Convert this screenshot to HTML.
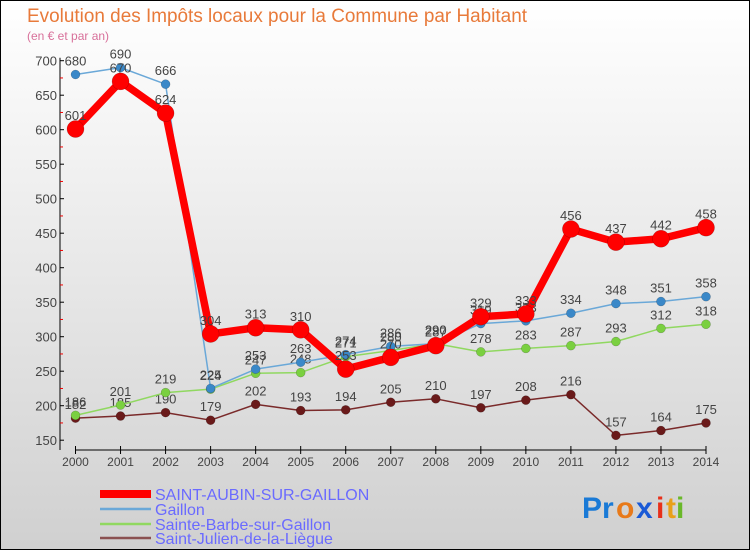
<!DOCTYPE html>
<html><head><meta charset="utf-8"><style>
body{margin:0;width:750px;height:550px;overflow:hidden;font-family:"Liberation Sans",sans-serif}
#wrap{position:absolute;left:0;top:0;width:748px;height:548px;border:1px solid #000;background:linear-gradient(#fff,#d0d0d0)}
text{font-family:"Liberation Sans",sans-serif}
</style></head><body>
<div id="wrap">
<svg id="chart" width="750" height="550" style="position:absolute;left:-1px;top:-1px">
<text x="27" y="22" font-size="19" fill="#e87a3a" textLength="500" lengthAdjust="spacingAndGlyphs">Evolution des Impôts locaux pour la Commune par Habitant</text>
<text x="27" y="40" font-size="12" fill="#d8709a">(en € et par an)</text>
<g id="axes"></g><g id="series"></g><g id="legend"></g>
<g font-size="30" font-weight="bold">
<text x="582" y="518" fill="#1a7ad6">Pr</text><text x="616" y="518" fill="#e87a1a">o</text><text x="636" y="518" fill="#1a5ad6">x</text><text x="656" y="518" fill="#e8301a">i</text><text x="666" y="518" fill="#e8a01a">t</text><text x="676" y="518" fill="#6ab82a">i</text>
</g>
</svg></div>
<script>
const years=[2000,2001,2002,2003,2004,2005,2006,2007,2008,2009,2010,2011,2012,2013,2014];
const yTicks=[150,200,250,300,350,400,450,500,550,600,650,700];
const saintAubin=[601,670,624,304,313,310,253,270,287,329,333,456,437,442,458];
const gaillon=[680,690,666,225,253,263,274,286,290,319,323,334,348,351,358];
const sainteBarbe=[186,201,219,224,247,248,271,280,290,278,283,287,293,312,318];
const saintJulien=[182,185,190,179,202,193,194,205,210,197,208,216,157,164,175];
const names=["SAINT-AUBIN-SUR-GAILLON","Gaillon","Sainte-Barbe-sur-Gaillon","Saint-Julien-de-la-Liègue"];
const NS="http://www.w3.org/2000/svg";
const xS=i=>75.5+i*(706-75.5)/(years.length-1);
const yS=v=>405.7-(v-200)*0.69;
function mk(tag,attrs,parent,txt){const e=document.createElementNS(NS,tag);for(const k in attrs)e.setAttribute(k,attrs[k]);if(txt!==undefined)e.textContent=txt;parent.appendChild(e);return e;}
const axes=document.getElementById('axes');
let a=mk('line',{x1:60,y1:yS(700)-3,x2:60,y2:450,stroke:'#000'},axes);


a=mk('line',{x1:75,y1:450,x2:706,y2:450,stroke:'#000'},axes);


yTicks.forEach(t=>{
 mk('line',{x1:60,y1:yS(t),x2:64,y2:yS(t),stroke:'#000'},axes);
 if(t<700)mk('line',{x1:60,y1:yS(t+25),x2:63,y2:yS(t+25),stroke:'#e00'},axes);
 const l=mk('text',{x:57,y:yS(t)+5,'font-size':13,fill:'#444','text-anchor':'end'},axes,t);
 
 
});
years.forEach((y,i)=>{
 mk('line',{x1:xS(i),y1:446,x2:xS(i),y2:454,stroke:'#000'},axes);
 const l=mk('text',{x:xS(i),y:466,'font-size':12,fill:'#444','text-anchor':'middle'},axes,y);
 
 
});
const ser=document.getElementById('series');
const defs=[
 {d:saintJulien,c:'#7a2a2a',m:'#6a1a1a',w:1.5,r:4.5,n:'saint-julien'},
 {d:sainteBarbe,c:'#90d860',m:'#7ad040',w:1.5,r:4.5,n:'sainte-barbe'},
 {d:gaillon,c:'#6aa8d8',m:'#3a88c8',w:1.5,r:4.5,n:'gaillon'},
 {d:saintAubin,c:'#f00',m:'#f00',w:7.5,r:8.5,n:'saint-aubin'}];
defs.forEach(s=>{
 const g=mk('g',{},ser);
 
 
 const p=mk('polyline',{points:s.d.map((v,i)=>xS(i)+','+yS(v)).join(' '),fill:'none',stroke:s.c,'stroke-width':s.w,'stroke-linejoin':'round'},g);
 
 
 s.d.forEach((v,i)=>{
  const c=mk('circle',{cx:xS(i),cy:yS(v),r:s.r,fill:s.m,stroke:'rgba(0,0,0,0.3)','stroke-width':0.5},g);
  
  
  const t=mk('text',{x:xS(i),y:yS(v)-9,'font-size':13,fill:'#444','text-anchor':'middle'},g,v);
  
  
 });
});
const leg=document.getElementById('legend');
const lc=['#f00','#6aa8d8','#90d860','#8a5050'],lw=[8,2.5,2.5,2.5],ly=[494,509,524,538];
names.forEach((n,i)=>{
 const g=mk('g',{},leg);
 
 
 mk('line',{x1:100,y1:ly[i],x2:151,y2:ly[i],stroke:lc[i],'stroke-width':lw[i]},g);
 mk('text',{x:155,y:ly[i]+6,'font-size':16,fill:'#6a6aff'},g,n);
});
</script>
</body></html>
